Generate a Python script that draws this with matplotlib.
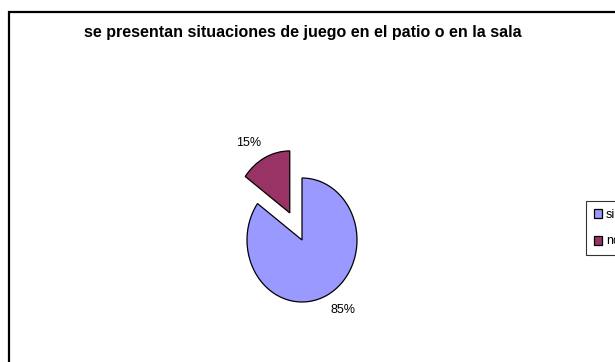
import matplotlib
matplotlib.use("Agg")
import numpy as np
import matplotlib.pyplot as plt
from matplotlib.patches import Rectangle

title = "se presentan situaciones de juego en el patio o en la sala"
categories = ["si", "no"]
values = [85, 15]
colors = ["#9999FF", "#993366"]

W, H = 615, 362
plt.rcParams['font.family'] = ['Liberation Sans', 'DejaVu Sans']
fig = plt.figure(figsize=(W / 100, H / 100), dpi=100)

# outer chart border (cut off on right/bottom)
fig.patches.append(Rectangle((9 / W, -0.2), 2, 1 - 12 / H + 0.2, transform=fig.transFigure,
                             fill=False, edgecolor="black", linewidth=1.6))

fig.text(303 / W, 1 - 33 / H, title, ha="center", va="center", fontsize=11.5, fontweight="bold")

# pie axes: centre (302,240) px, rx=55 px, ry=62 px
cx, cy, rx, ry = 302, 240, 55, 62
ax = fig.add_axes([(cx - 2 * rx) / W, 1 - (cy + 2 * ry) / H, 4 * rx / W, 4 * ry / H])
explode = [0, 0.49]
wedges, texts = ax.pie(values, colors=colors, startangle=90, counterclock=False,
                       explode=explode,
                       wedgeprops=dict(edgecolor="black", linewidth=0.9))
ax.set_aspect('auto')
ax.set_xlim(-2, 2)
ax.set_ylim(-2, 2)
ax.axis('off')

# percentage labels outside the slices, anchored by their nearest corner
total = sum(values)
for w, v, e in zip(wedges, values, explode):
    mid = np.deg2rad((w.theta1 + w.theta2) / 2)
    dx, dy = np.cos(mid), np.sin(mid)
    d = 1.15
    x = (e + d) * dx
    y = (e + d) * dy
    ha = "left" if dx > 0 else "right"
    va = "bottom" if dy > 0 else "top"
    ax.text(x, y, f"{round(100 * v / total)}%", ha=ha, va=va, fontsize=9)

leg = fig.legend(wedges, categories, loc="upper left", bbox_to_anchor=(586 / W, 1 - 201 / H),
                 fontsize=9, frameon=True, fancybox=False, edgecolor="black",
                 handlelength=0.7, handleheight=0.7, handletextpad=0.3,
                 borderpad=0.6, labelspacing=1.2, borderaxespad=0)
leg.get_frame().set_linewidth(0.8)

fig.savefig("out.png", dpi=100)
